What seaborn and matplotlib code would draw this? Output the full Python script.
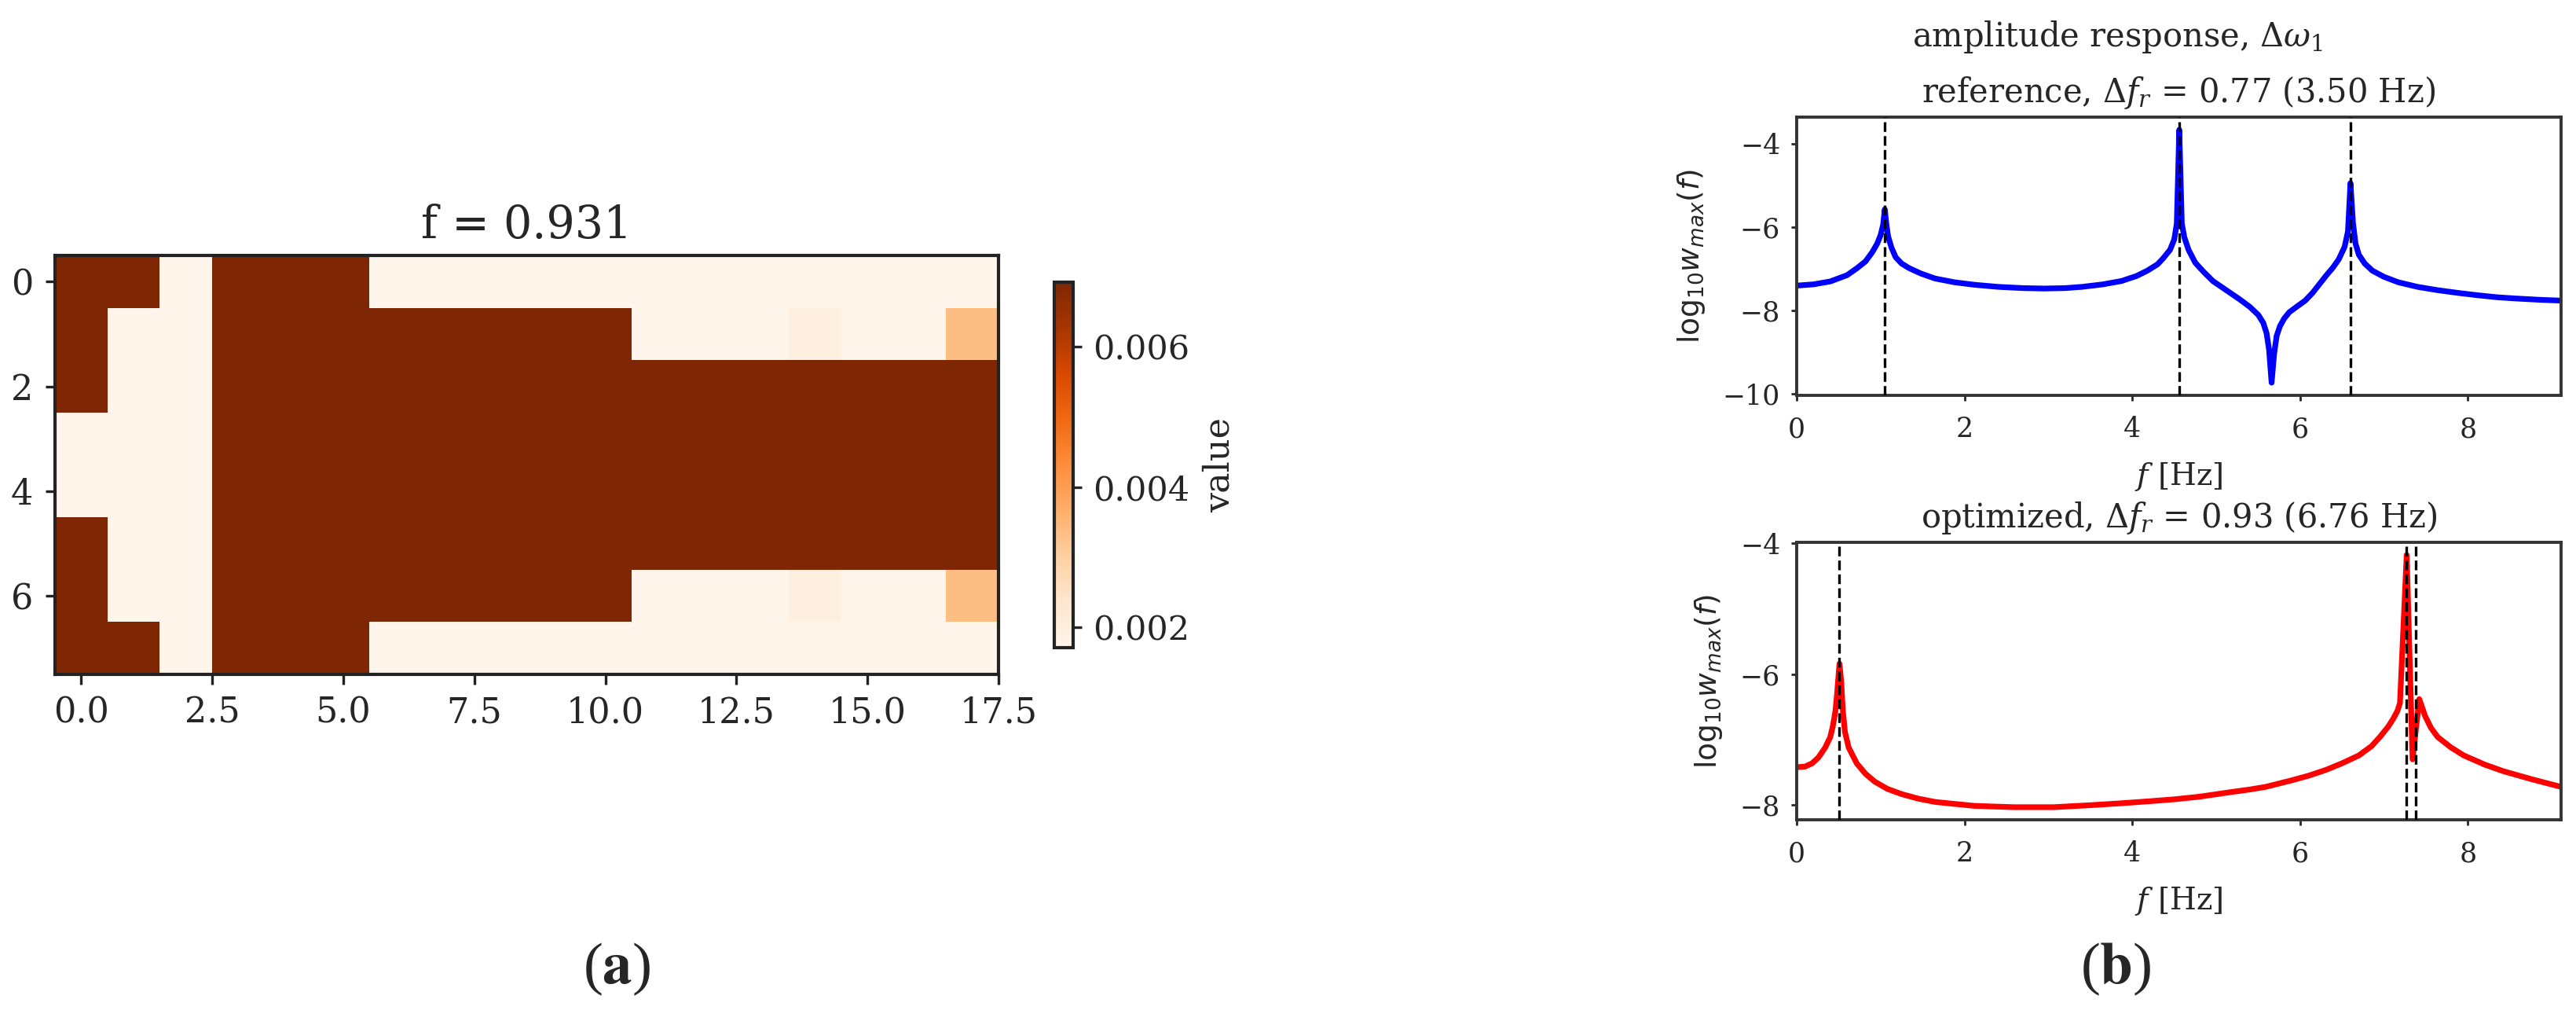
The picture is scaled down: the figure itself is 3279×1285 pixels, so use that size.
import numpy as np
import pandas as pd
import matplotlib
matplotlib.use("Agg")
import matplotlib.pyplot as plt
import seaborn as sns
from matplotlib.ticker import MultipleLocator

# ===============================
# DATA
# ===============================
# heatmap cell levels: D = dark, L = light, T = faint tint, O = orange
LEVELS = {"D": 0.00692, "L": 0.00171, "T": 0.00197, "O": 0.00336}
cell_rows = [
    "DDLDDDLLLLLLLLLLLL",
    "DLLDDDDDDDDLLLTLLO",
    "DLLDDDDDDDDDDDDDDD",
    "LLLDDDDDDDDDDDDDDD",
    "LLLDDDDDDDDDDDDDDD",
    "DLLDDDDDDDDDDDDDDD",
    "DLLDDDDDDDDLLLTLLO",
    "DDLDDDLLLLLLLLLLLL",
]
cbar_ticks = [0.002, 0.004, 0.006]
heat_title = "f = 0.931"

# amplitude response, reference design
ref_f = [0.00, 0.20, 0.40, 0.60, 0.72, 0.82, 0.90, 0.96, 1.00, 1.03, 1.05,
         1.07, 1.09, 1.13, 1.18, 1.25, 1.34, 1.48, 1.65, 1.88, 2.12, 2.40,
         2.70, 2.95, 3.20, 3.40, 3.65, 3.87, 4.05, 4.18, 4.30, 4.37, 4.45,
         4.50, 4.53, 4.56, 4.59, 4.62, 4.67, 4.75, 4.85, 4.96, 5.12, 5.28,
         5.40, 5.50, 5.56, 5.60, 5.63, 5.66, 5.69, 5.72, 5.76, 5.81, 5.87,
         5.95, 6.06, 6.15, 6.24, 6.31, 6.39, 6.46, 6.53, 6.57, 6.60, 6.63,
         6.66, 6.70, 6.77, 6.86, 7.00, 7.17, 7.40, 7.64, 7.90, 8.11, 8.35,
         8.58, 8.85, 9.11]
ref_w = [-7.41, -7.38, -7.31, -7.16, -6.99, -6.83, -6.61, -6.40, -6.20, -5.95, -5.58,
         -5.95, -6.23, -6.50, -6.73, -6.88, -6.99, -7.12, -7.24, -7.33, -7.39, -7.44,
         -7.47, -7.48, -7.47, -7.44, -7.38, -7.30, -7.18, -7.05, -6.90, -6.75, -6.55,
         -6.30, -5.92, -3.67, -5.92, -6.25, -6.55, -6.86, -7.08, -7.30, -7.52, -7.74,
         -7.92, -8.11, -8.30, -8.55, -8.95, -9.74, -9.05, -8.62, -8.38, -8.20, -8.05,
         -7.93, -7.77, -7.58, -7.35, -7.17, -6.98, -6.78, -6.48, -6.11, -4.95, -5.90,
         -6.40, -6.67, -6.88, -7.05, -7.20, -7.33, -7.44, -7.52, -7.59, -7.64, -7.69,
         -7.72, -7.75, -7.77]
ref_peaks = [1.05, 4.56, 6.60]

# amplitude response, optimized design
opt_f = [0.00, 0.10, 0.185, 0.26, 0.34, 0.40, 0.43, 0.46, 0.48, 0.51, 0.53,
         0.55, 0.575, 0.62, 0.715, 0.82, 0.93, 1.08, 1.25, 1.45, 1.65, 1.88,
         2.12, 2.35, 2.59, 2.80, 3.06, 3.50, 3.87, 4.20, 4.50, 4.80, 5.12,
         5.40, 5.59, 5.90, 6.10, 6.31, 6.50, 6.70, 6.85, 6.95, 7.05, 7.11,
         7.16, 7.19, 7.27, 7.34, 7.42, 7.49, 7.56, 7.64, 7.80, 7.95, 8.20,
         8.42, 8.75, 9.11]
opt_w = [-7.42, -7.41, -7.36, -7.27, -7.12, -6.96, -6.80, -6.58, -6.32, -5.84, -6.10,
         -6.55, -6.88, -7.12, -7.36, -7.52, -7.64, -7.75, -7.83, -7.90, -7.95, -7.98,
         -8.01, -8.02, -8.03, -8.03, -8.03, -8.00, -7.97, -7.94, -7.91, -7.87, -7.81,
         -7.76, -7.72, -7.62, -7.55, -7.46, -7.36, -7.24, -7.10, -6.96, -6.80, -6.68,
         -6.56, -6.44, -4.18, -7.30, -6.38, -6.64, -6.82, -6.96, -7.12, -7.24, -7.38,
         -7.48, -7.60, -7.72]
opt_peaks = [0.51, 7.27, 7.38]

suptitle_txt = r"amplitude response, $\Delta\omega_1$"
ref_title = r"reference, $\Delta f_r$ = 0.77 (3.50 Hz)"
opt_title = r"optimized, $\Delta f_r$ = 0.93 (6.76 Hz)"

# ===============================
# STYLE
# ===============================
sns.set_style("ticks")
plt.rcParams["font.family"] = ["DejaVu Serif"]
plt.rcParams["mathtext.fontset"] = "dejavuserif"

W, H = 3279, 1285
DPI = 200
fig = plt.figure(figsize=(W / DPI, H / DPI), dpi=DPI)


def box(x0, y0, x1, y1):
    # pixel box (top-left origin) -> figure fraction rect
    return [x0 / W, 1 - y1 / H, (x1 - x0) / W, (y1 - y0) / H]


# ===============================
# (a) HEATMAP
# ===============================
grid = np.array([[LEVELS[c] for c in row] for row in cell_rows])
ax_h = fig.add_axes(box(70, 325, 1271, 858))
cax = fig.add_axes(box(1342, 359, 1366, 824))
sns.heatmap(grid, ax=ax_h, cmap="Oranges", cbar_ax=cax,
            xticklabels=False, yticklabels=False)

xt = np.arange(0, 18, 2.5)
ax_h.set_xticks(xt + 0.5)
ax_h.set_xticklabels([f"{v:.1f}" for v in xt])
yt = [0, 2, 4, 6]
ax_h.set_yticks(np.array(yt) + 0.5)
ax_h.set_yticklabels([str(v) for v in yt], rotation=0)
ax_h.tick_params(labelsize=16, length=4.5, width=1.2, pad=5.5, color="#222222")
for sp in ax_h.spines.values():
    sp.set_visible(True)
    sp.set_linewidth(1.5)
    sp.set_color("#222222")
ax_h.set_title(heat_title, fontsize=20.5, pad=8)

cb = ax_h.collections[0].colorbar
cb.outline.set_linewidth(1.5)
cb.outline.set_edgecolor("#222222")
cb.set_ticks(cbar_ticks)
cb.set_ticklabels([f"{v:.3f}" for v in cbar_ticks])
cb.ax.tick_params(labelsize=15.5, length=4, width=1.2, pad=5)
cb.set_label("value", fontsize=16, labelpad=6)

# ===============================
# (b) AMPLITUDE RESPONSES
# ===============================
panels = [
    (box(2287, 149, 3260, 503), ref_f, ref_w, ref_peaks, "blue", ref_title),
    (box(2287, 690, 3260, 1043), opt_f, opt_w, opt_peaks, "red", opt_title),
]
for rect, fx, wy, peaks, col, ttl in panels:
    ax = fig.add_axes(rect)
    df = pd.DataFrame({"f": fx, "w": wy})
    sns.lineplot(data=df, x="f", y="w", ax=ax, color=col, linewidth=2.6)
    for p in peaks:
        ax.axvline(p, color="black", linestyle="--", linewidth=1.2, zorder=3)
    ax.set_xlim(fx[0], fx[-1])
    ax.xaxis.set_major_locator(MultipleLocator(2))
    ax.yaxis.set_major_locator(MultipleLocator(2))
    ax.tick_params(labelsize=12.5, length=2.5, width=1.0)
    ax.tick_params(axis="x", pad=7)
    ax.tick_params(axis="y", pad=5)
    for sp in ax.spines.values():
        sp.set_linewidth(1.4)
        sp.set_color("#333333")
    ax.set_xlabel(r"$f$ [Hz]", fontsize=14, labelpad=8)
    ax.set_ylabel(r"$\mathrm{log}_{10}w_{max}(f)$", fontsize=13.5, labelpad=7,
                  math_fontfamily="dejavusans")
    ax.set_title(ttl, fontsize=15, pad=7)

fig.text(2695 / W, 1 - 59 / H, suptitle_txt, ha="center", va="baseline", fontsize=15)

# panel letters
for xc, letter in [(785, "a"), (2693, "b")]:
    fig.text(xc / W, 1 - 1251 / H, "($\\mathbf{" + letter + "}$)", ha="center",
             va="baseline", fontsize=27, family="Liberation Serif",
             math_fontfamily="stix")

fig.savefig("out.png", dpi=DPI)
print("Saved out.png")
